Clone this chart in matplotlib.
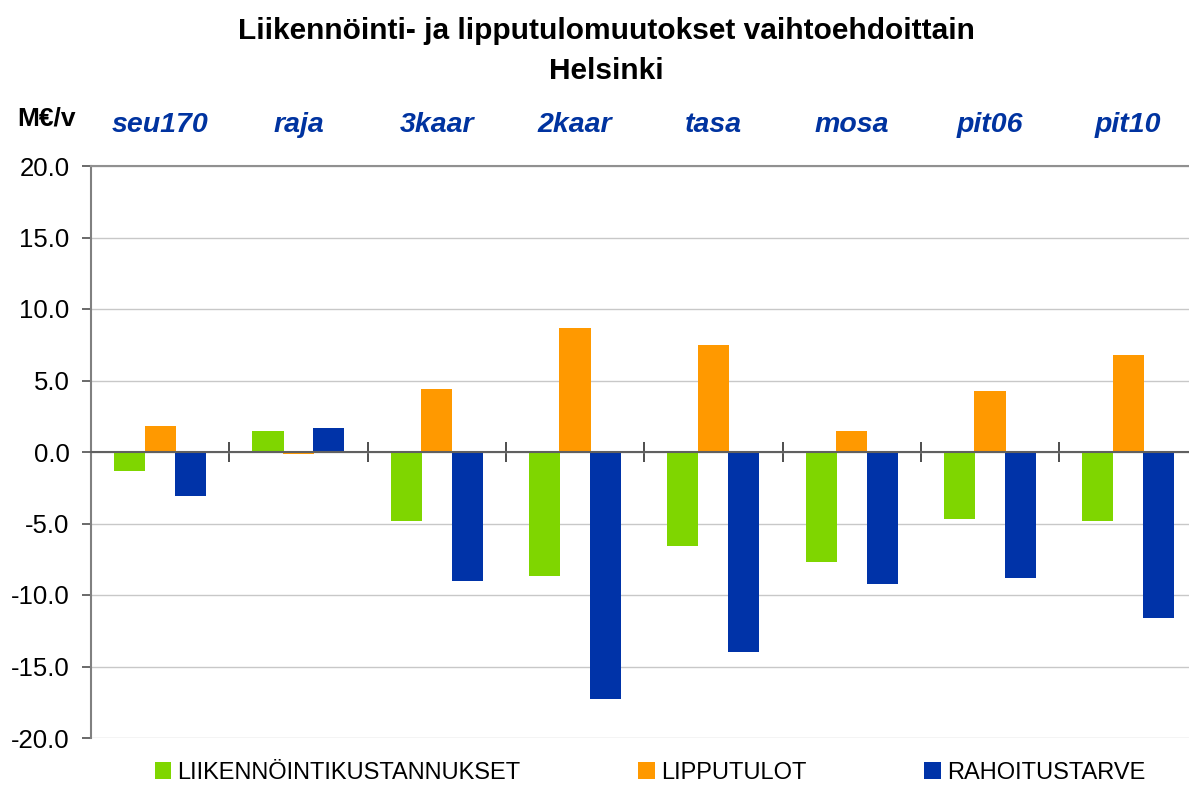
import numpy as np
import matplotlib
matplotlib.use("Agg")
import matplotlib.pyplot as plt
from matplotlib.ticker import MultipleLocator, FixedLocator

plt.rcParams["font.family"] = ["Liberation Sans", "DejaVu Sans"]

# Vaihtoehdot ja muutokset (M€/v)
vaihtoehdot = ["seu170", "raja", "3kaar", "2kaar", "tasa", "mosa", "pit06", "pit10"]
liikennointikustannukset = [-1.3, 1.5, -4.8, -8.7, -6.6, -7.7, -4.7, -4.8]
lipputulot = [1.8, -0.15, 4.4, 8.7, 7.5, 1.5, 4.3, 6.8]
rahoitustarve = [-3.1, 1.7, -9.0, -17.3, -14.0, -9.2, -8.8, -11.6]

sarjat = ["LIIKENNÖINTIKUSTANNUKSET", "LIPPUTULOT", "RAHOITUSTARVE"]
varit = ["#7FD600", "#FF9900", "#0033A8"]
nimi_vari = "#0033A0"

fig = plt.figure(figsize=(11.89, 7.85), dpi=100)
ax = fig.add_axes([91 / 1189, 1 - 738 / 785, 1 - 91 / 1189, (738 - 166) / 785])

x = np.arange(len(vaihtoehdot))
leveys = 0.225
siirto = 0.22
for i, (arvot, nimi, vari) in enumerate(zip([liikennointikustannukset, lipputulot, rahoitustarve], sarjat, varit)):
    ax.bar(x + (i - 1) * siirto, arvot, width=leveys, color=vari, label=nimi, zorder=3, linewidth=0)

ax.set_xlim(-0.5, -0.5 + (1189 - 91) / 138.3)
ax.set_ylim(-20, 20)
ax.yaxis.set_major_locator(MultipleLocator(5))
ax.yaxis.set_major_formatter(lambda v, p: f"{v:.1f}")
ax.grid(axis="y", color="#c8c8c8", linewidth=1.0, zorder=0)

# x-akseli nollatasolla, jakomerkit vaihtoehtojen välissä
ax.spines["bottom"].set_position(("data", 0))
ax.spines["bottom"].set_color("#606060")
ax.spines["bottom"].set_linewidth(1.5)
ax.spines["bottom"].set_zorder(4)
ax.spines["left"].set_color("#808080")
ax.spines["left"].set_linewidth(1.5)
ax.spines["top"].set_color("#909090")
ax.spines["top"].set_linewidth(1.5)
ax.spines["right"].set_visible(False)
ax.xaxis.set_major_locator(FixedLocator(np.arange(0.5, 7.5, 1.0)))
ax.tick_params(axis="x", direction="inout", length=15, width=1.2, color="#303030", labelbottom=False)
ax.tick_params(axis="y", direction="out", length=6.5, width=1.2, color="#505050", pad=9, labelsize=18.5)

for xi, nimi in zip(x, vaihtoehdot):
    ax.text(xi, 1.072, nimi, transform=ax.get_xaxis_transform(), ha="center", va="center",
            fontsize=20.5, fontweight="bold", fontstyle="italic", color=nimi_vari)

fig.text(46 / 1189, 1 - 119 / 785, "M€/v", ha="center", va="center", fontsize=19, fontweight="bold")
fig.text(606 / 1189, 1 - 31 / 785, "Liikennöinti- ja lipputulomuutokset vaihtoehdoittain",
         ha="center", va="center", fontsize=21.5, fontweight="bold")
fig.text(606 / 1189, 1 - 71 / 785, "Helsinki", ha="center", va="center", fontsize=21.5, fontweight="bold")

fig.legend(loc="center", bbox_to_anchor=(650 / 1189, 1 - 773 / 785), ncol=3, frameon=False,
           fontsize=17, handlelength=0.7, handleheight=0.75, handletextpad=0.25, columnspacing=5.0,
           borderaxespad=0, borderpad=0)

fig.savefig("out.png", dpi=100)
